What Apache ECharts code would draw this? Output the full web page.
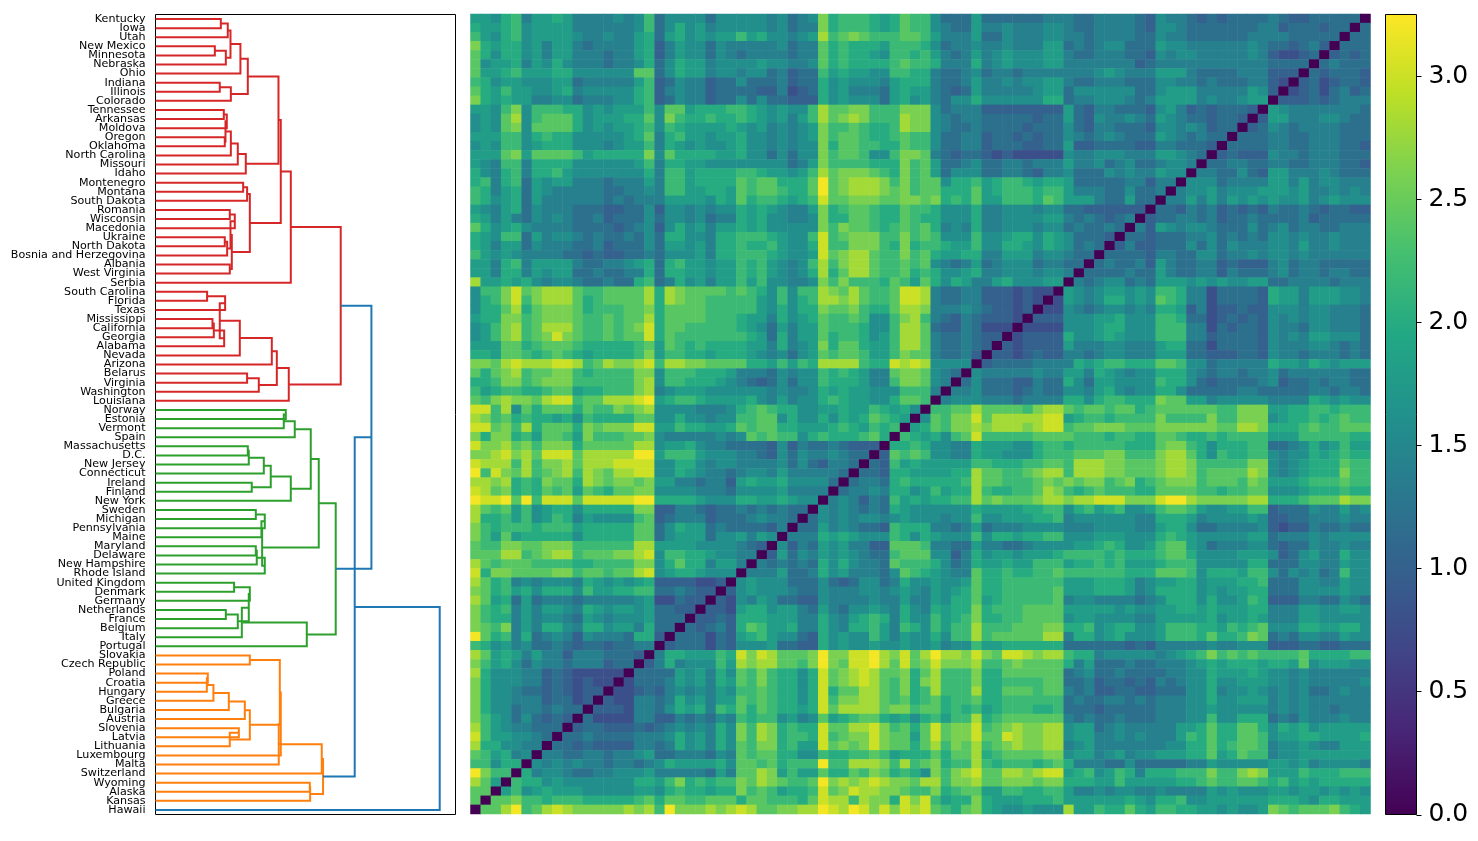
<!DOCTYPE html>
<html>
<head>
<meta charset="utf-8">
<title>Dendrogram and distance matrix</title>
<script src="https://cdn.jsdelivr.net/npm/echarts@6/dist/echarts.min.js"></script>
<style>
html, body { margin: 0; padding: 0; background: #fff; }
#main { width: 1478px; height: 841px; }
</style>
</head>
<body>
<div id="main"></div>
<script>
// leaves of the tree, top to bottom
var leafNames = ['Kentucky','Iowa','Utah','New Mexico','Minnesota','Nebraska','Ohio','Indiana','Illinois','Colorado',
	'Tennessee','Arkansas','Moldova','Oregon','Oklahoma','North Carolina','Missouri','Idaho','Montenegro','Montana',
	'South Dakota','Romania','Wisconsin','Macedonia','Ukraine','North Dakota','Bosnia and Herzegovina','Albania','West Virginia','Serbia',
	'South Carolina','Florida','Texas','Mississippi','California','Georgia','Alabama','Nevada','Arizona','Belarus',
	'Virginia','Washington','Louisiana','Norway','Estonia','Vermont','Spain','Massachusetts','D.C.','New Jersey',
	'Connecticut','Ireland','Finland','New York','Sweden','Michigan','Pennsylvania','Maine','Maryland','Delaware',
	'New Hampshire','Rhode Island','United Kingdom','Denmark','Germany','Netherlands','France','Belgium','Italy','Portugal',
	'Slovakia','Czech Republic','Poland','Croatia','Hungary','Greece','Bulgaria','Austria','Slovenia','Latvia',
	'Lithuania','Luxembourg','Malta','Switzerland','Wyoming','Alaska','Kansas','Hawaii'];

// merges: [child, child, height, colour key]. child < 88 is a leaf, otherwise merge number child - 88
var merges = [
	[0,1,0.743,'r'],[88,2,0.822,'r'],[3,4,0.675,'r'],[90,5,0.800,'r'],[89,91,0.853,'r'],[92,6,0.966,'r'],
	[7,8,0.731,'r'],[94,9,0.857,'r'],[93,95,1.050,'r'],[10,11,0.777,'r'],[97,12,0.811,'r'],[13,14,0.788,'r'],
	[98,99,0.796,'r'],[100,15,0.857,'r'],[101,16,0.936,'r'],[102,17,1.027,'r'],[96,103,1.399,'r'],[18,19,0.997,'r'],
	[105,20,1.042,'r'],[21,22,0.845,'r'],[107,23,0.902,'r'],[24,25,0.788,'r'],[109,26,0.815,'r'],[108,110,0.853,'r'],
	[27,28,0.845,'r'],[111,112,0.868,'r'],[106,113,1.073,'r'],[104,114,1.425,'r'],[115,29,1.539,'r'],[30,31,0.587,'r'],
	[117,32,0.792,'r'],[33,34,0.648,'r'],[119,35,0.663,'r'],[120,36,0.781,'r'],[118,121,0.731,'r'],[122,37,0.959,'r'],
	[123,38,1.323,'r'],[39,40,1.042,'r'],[125,41,1.175,'r'],[124,126,1.380,'r'],[127,42,1.516,'r'],[116,128,2.107,'r'],
	[43,44,1.482,'g'],[130,45,1.459,'g'],[131,46,1.584,'g'],[47,48,1.050,'g'],[133,49,1.061,'g'],[134,50,1.232,'g'],
	[51,52,1.095,'g'],[135,136,1.311,'g'],[137,53,1.539,'g'],[132,138,1.766,'g'],[54,55,1.141,'g'],[140,56,1.243,'g'],
	[141,57,1.205,'g'],[58,59,1.141,'g'],[143,60,1.152,'g'],[144,61,1.243,'g'],[142,145,1.213,'g'],[139,146,1.857,'g'],
	[62,63,0.894,'g'],[148,64,1.073,'g'],[65,66,0.800,'g'],[150,67,0.936,'g'],[149,151,1.061,'g'],[152,68,0.982,'g'],
	[153,69,1.721,'g'],[147,154,2.050,'g'],
	[70,71,1.073,'o'],[72,73,0.595,'o'],[157,74,0.584,'o'],[158,75,0.659,'o'],[159,76,0.834,'o'],[160,77,1.016,'o'],
	[78,79,0.948,'o'],[162,80,0.845,'o'],[161,163,1.073,'o'],[156,164,1.414,'o'],[165,81,1.425,'o'],[166,82,1.402,'o'],
	[167,83,1.891,'o'],[84,85,1.755,'o'],[169,86,1.759,'o'],[168,170,1.906,'o'],
	[129,155,2.456,'b'],[172,171,2.266,'b'],[173,87,3.233,'b']
];
var linkColors = {r: '#d62728', g: '#2ca02c', o: '#ff7f0e', b: '#1f77b4'};

// one hex digit per cell, see distLevels. Row i runs from the left edge up to the diagonal, the rest is its mirror
var distLevels = [0, 0.8, 1.0, 1.2, 1.4, 1.6, 1.8, 2.0, 2.2, 2.4, 2.6, 2.8, 3.0, 3.2];
var distRows = [
	'6657846676 4444545835 555355555 45345a7888 7679885333 6333333444 3344443254 4323233334 32233333',
	'7667856666 4444445835 756455555 45344a7888 7679885433 6445444554 3344443255 4333333344 2333233',
	'8657856666 5445446736 756566867 55456b89a9 8889986444 6335444554 4344443354 4333333444 433333',
	'a767756466 4344446724 655354444 4534497877 7688875344 5445444663 4345533365 5444444543 32342',
	'9757756466 4443446724 655354344 4434497877 6588786434 6456555664 3344433254 5544444542 1123',
	'9566746575 4443445735 766455556 5544597877 7789887444 7456555664 4444442344 4444444443 333',
	'9667866677 5555559935 766455455 3423386766 5588774334 5344344444 4456544466 6433334442 22',
	'8756655566 3444446823 544233533 3423375655 5467774334 6445455664 3344433355 4434333442 1',
	'9768665567 4555557824 544233332 2412375644 4367664323 6444445663 5555553356 6644444652',
	'a767664455 3444557823 544233535 3322275655 5367564355 7555555773 4455543466 664544566',
	'6658a58887 7565666859 967778876 56558b99aa 888aaa5344 4222222226 3244333256 42323332',
	'5659b58999 756667795a 877877876 56468b9aba 888baa5434 4333332336 3254454365 4332332',
	'5659a59999 7565667858 766667656 45456a8898 778baa5433 4333323335 3244333255 454233',
	'6668857877 5555567947 866566755 45456a8998 7789885334 4233232335 4345433365 43433',
	'5658856777 5554566847 656556755 45455a7998 8779885334 4233322336 2233332244 3332',
	'6669a69999 8677777a59 777766755 35355a8998 558aa94323 3212111115 4455544466 543',
	'6548847777 5555556847 766555555 55346a8888 777a896334 5334434446 4453453345 54',
	'7547847786 5555555748 867777887 66568b9aaa 987a896355 5334432445 3335454465 5',
	'7847836566 4443444648 867777989 97779d9abb ba8a899577 8678876776 3333344244',
	'8746736544 4443344548 866776989 98779d9abb ba9a899777 9678887886 444335334',
	'8756736444 4443434446 666576978 87678c99aa a99aa9a787 9668887986 66433633',
	'6546735444 3332233525 545455767 65446a7899 8779887555 7445554553 3222222',
	'7646435454 3342333535 545344767 55445a7799 8779877555 7445555664 343234',
	'9756754444 3333234525 756466767 55555a8a99 8789897454 7445554553 43343',
	'7658836455 4343343537 755477888 76558c89aa a88a898555 8556775765 3332',
	'7646635444 3342333536 656477877 86557c88aa a87a788766 8557765765 343',
	'8656544443 3232233435 556477888 76556c9abb 988a897667 7446664554 33',
	'6647846666 4334456737 866566878 65458b8abb 9889895434 6345553443 3',
	'6647746566 3343344737 766566878 65457b79bb 9889787556 7445554554',
	'b667675455 4334337834 756466868 55445a8a88 8798697576 446755566',
	'588ac9abbb 9889999b7b a99998987 58588ba9b9 889ccb4334 42221211',
	'578ac8abbb 9789999b7b a99888886 58578bbab9 889ccb4334 4222121',
	'5779b79aaa 9788899a79 999888886 57577a99a8 779bba4445 432212',
	'677aa89aaa 9889899b79 999888766 4756798898 558ab84324 32221',
	'568ab89bbb 988989ac79 988888765 3646698887 558bb93224 3111',
	'568ab89aca 9889899c79 888888876 3746697887 568bb94334 322',
	'6669978999 8777778969 878777766 47456a7997 668bb94334 32',
	'7769987898 7677778a68 877677765 4535698998 668a994334 2',
	'aa9bcbbbcc b89baabc8b baa999977 68687bbbb8 77cbcb5555',
	'979ab899aa 878888aa58 887776444 3545587876 449aa9543',
	'778aa89aaa 888888ab58 877765432 3535587776 448aa954',
	'8678877899 677888ab45 666555555 4544576766 5558884',
	'98abaa9bcc 899bbbcd67 887666675 4645578766 557998',
	'cc8b597999 7988a9ab55 554445789 8775566766 87675',
	'ba89787767 5877779955 755455889 9575575767 9876',
	'cc9a8b7999 7a9aaacc66 877667989 9776667876 878',
	'a7aa786998 6a88899a54 444454598 9885787778 97',
	'caab9a8aaa 799999bb56 675443333 2524334322 2',
	'aabcab9ccc 9bbbbbdd68 886555443 2535445433',
	'cbbb8b8aab 9bbbcccc55 775455444 453532443',
	'd8ca9b89ab 8ba9bbcc55 765443455 46444443',
	'bbab787a99 7ba9aa9a66 443442676 6755553',
	'cb9a787989 698799aa55 554443555 564444',
	'dccd9d8ccc 9cccccdd77 776555776 67655',
	'b989685677 577777aa22 443233434 3433',
	'b778685687 4655558923 444233345 443',
	'a878887888 6777779935 766343333 24',
	'a869677777 5777779935 666355646 5',
	'988aa99aaa 888888bb66 665555432',
	'999bb89abb 8999aabc58 87765544',
	'b989998888 778888aa57 9774664',
	'c7aa9999aa 899899bc56 776555',
	'b978454555 4765656722 22112',
	'a978675777 5866778833 4322',
	'b967363444 3444445611 322',
	'a878464665 4765665633 22',
	'a877464554 3654555633 3',
	'a98a464775 4775664733',
	'd978473454 254443772',
	'8756453343 23323344',
	'b967646442 4443332',
	'a867535443 444233',
	'b755544232 11111',
	'a755544232 1211',
	'a755433232 122',
	'a755444233 12',
	'a755344343 3',
	'a865353232',
	'b86544333',
	'c8665543',
	'b775544',
	'986745',
	'88577',
	'da88',
	'b96',
	'99',
	'9',
	''
];

var colorbarTicks = [0, 0.5, 1.0, 1.5, 2.0, 2.5, 3.0];
var distMax = 3.25;
var viridis = ['#440154','#482475','#414487','#355f8d','#2a788e','#21918c','#22a884','#44bf70','#7ad151','#bddf26','#fde725'];

function cellValue(r, c) {
	var n = leafNames.length;
	if(r + c == n - 1) return 0;
	if(r + c > n - 1) {
		var t = r;
		r = n - 1 - c;
		c = n - 1 - t;
	}
	var row = distRows[r].replace(/ /g, '');
	return distLevels[parseInt(row.charAt(c), 16)];
}

function buildHeat() {
	var out = [];
	for(var r = 0; r < leafNames.length; r++) {
		for(var c = 0; c < leafNames.length; c++) {
			out.push([c, r, cellValue(r, c)]);
		}
	}
	return out;
}

// y of a merge is the middle of its two children, x of a leaf is 0
function buildLinks() {
	var n = leafNames.length;
	var nodes = [];
	for(var i = 0; i < n; i++) nodes.push({x: 0, y: i + 0.5});
	var links = [];
	for(var j = 0; j < merges.length; j++) {
		var m = merges[j];
		var a = nodes[m[0]], b = nodes[m[1]];
		links.push([a.x, a.y, m[2], b.y, b.x]);
		nodes.push({x: m[2], y: (a.y + b.y) / 2});
	}
	return links;
}

var chart = echarts.init(document.getElementById('main'));
var axisFont = 'DejaVu Sans';
var stops = viridis.map(function(col, i) {
	return {offset: i / (viridis.length - 1), color: col};
});

chart.setOption({
	animation: false,
	backgroundColor: '#fff',
	grid: [
		{left: 155.5, top: 14.5, width: 300, height: 800, show: true, borderColor: '#000', borderWidth: 1, backgroundColor: 'transparent'},
		{left: 470.5, top: 14, width: 900, height: 800},
		{left: 1385.5, top: 14.5, width: 31, height: 800}
	],
	xAxis: [
		{gridIndex: 0, type: 'value', min: 0, max: 3.4125, show: false},
		{gridIndex: 1, type: 'category', data: leafNames.slice().reverse(), show: false},
		{gridIndex: 2, type: 'value', min: 0, max: 1, show: false}
	],
	yAxis: [
		{gridIndex: 0, type: 'category', inverse: true, data: leafNames, position: 'left',
			axisLine: {show: false}, axisTick: {show: false}, splitLine: {show: false},
			axisLabel: {interval: 0, margin: 10, padding: [4, 0, 0, 0], fontFamily: axisFont, fontSize: 11.1, color: '#000', hideOverlap: false}},
		{gridIndex: 0, type: 'value', inverse: true, min: 0, max: 88, show: false},
		{gridIndex: 1, type: 'category', inverse: true, data: leafNames, show: false},
		{gridIndex: 2, type: 'value', min: 0, max: distMax, position: 'right', splitLine: {show: false},
			axisLine: {show: false},
			axisTick: {show: false},
			axisLabel: {margin: 12, padding: [11, 0, 0, 0], fontFamily: axisFont, fontSize: 25, color: '#000', customValues: colorbarTicks,
				formatter: function(v) { return v.toFixed(1); }}}
	],
	visualMap: {
		show: false,
		seriesIndex: 1,
		dimension: 2,
		min: 0,
		max: distMax,
		inRange: {color: viridis}
	},
	series: [{
		type: 'custom',
		xAxisIndex: 0,
		yAxisIndex: 1,
		encode: {x: [0, 2, 4], y: [1, 3]},
		data: buildLinks(),
		renderItem: function(params, api) {
			var pts = [
				api.coord([api.value(0), api.value(1)]),
				api.coord([api.value(2), api.value(1)]),
				api.coord([api.value(2), api.value(3)]),
				api.coord([api.value(4), api.value(3)])
			];
			return {
				type: 'polyline',
				shape: {points: pts},
				style: {fill: null, stroke: linkColors[merges[params.dataIndex][3]], lineWidth: 2}
			};
		}
	}, {
		type: 'heatmap',
		xAxisIndex: 1,
		yAxisIndex: 2,
		data: buildHeat(),
		itemStyle: {borderWidth: 0},
		emphasis: {disabled: true}
	}, {
		type: 'custom',
		xAxisIndex: 2,
		yAxisIndex: 3,
		silent: true,
		data: [[0, distMax]],
		encode: {x: 0, y: 1},
		renderItem: function(params, api) {
			var s = params.coordSys;
			return {
				type: 'rect',
				shape: {x: s.x, y: s.y, width: s.width, height: s.height},
				style: {stroke: '#000', lineWidth: 1, fill: {type: 'linear', x: 0, y: 1, x2: 0, y2: 0, colorStops: stops}}
			};
		}
	}, {
		// colorbar ticks, outside the bar
		type: 'custom',
		xAxisIndex: 2,
		yAxisIndex: 3,
		silent: true,
		clip: false,
		data: colorbarTicks.map(function(v) { return [1, v]; }),
		encode: {x: 0, y: 1},
		renderItem: function(params, api) {
			var p = api.coord([1, api.value(1)]);
			var y = Math.round(p[1]) + 0.5;
			return {
				type: 'line',
				shape: {x1: p[0], y1: y, x2: p[0] + 5, y2: y},
				style: {stroke: '#000', lineWidth: 1}
			};
		}
	}]
});
</script>
</body>
</html>
